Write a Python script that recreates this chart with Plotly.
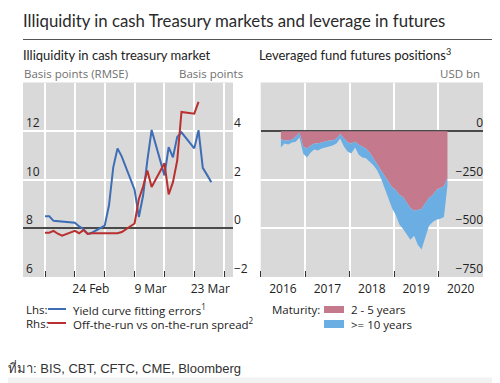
import plotly.graph_objects as go

# ---------------- data: left panel (daily, business days) ----------------
days = ["2020-02-17", "2020-02-18", "2020-02-19", "2020-02-20", "2020-02-21",
        "2020-02-24", "2020-02-25", "2020-02-26", "2020-02-27", "2020-02-28",
        "2020-03-02", "2020-03-03", "2020-03-04", "2020-03-05", "2020-03-06",
        "2020-03-09", "2020-03-10", "2020-03-11", "2020-03-12", "2020-03-13",
        "2020-03-16", "2020-03-17", "2020-03-18", "2020-03-19", "2020-03-20",
        "2020-03-23", "2020-03-24", "2020-03-25", "2020-03-26", "2020-03-27"]
fit_errors = [8.50, 8.50, 8.31, 8.30, 8.28,
              8.23, 8.08, 7.97, 7.77, 7.82,
              8.11, 8.95, 10.51, 11.29, 10.95,
              9.59, 8.47, 9.35, 10.80, 12.05,
              10.18, 11.34, 10.92, 11.76, 11.95,
              11.29, 12.04, 10.49, 10.20, 9.90]
spread_days = days[:27]
spread = [-0.18, -0.18, -0.10, -0.22, -0.30,
          -0.10, -0.20, -0.07, -0.23, -0.20,
          -0.20, -0.20, -0.20, -0.20, -0.15,
          0.20, 1.20, 1.72, 2.38, 1.70,
          2.68, 1.40, 1.90, 2.79, 4.79,
          4.72, 5.20]
week_starts = ["2020-02-17", "2020-02-24", "2020-03-02", "2020-03-09",
               "2020-03-16", "2020-03-23", "2020-03-30"]
left_tick_pos = ["2020-02-27 18:00", "2020-03-12 18:00", "2020-03-26 18:00"]
left_tick_text = ["24 Feb", "9 Mar", "23 Mar"]

# ---------------- data: right panel (monthly) ----------------
months = ["2016-06-15", "2016-07-15", "2016-08-15", "2016-09-15", "2016-10-15", "2016-11-15", "2016-12-15",
          "2017-01-15", "2017-02-15", "2017-03-15", "2017-04-15", "2017-05-15", "2017-06-15",
          "2017-07-15", "2017-08-15", "2017-09-15", "2017-10-15", "2017-11-15", "2017-12-15",
          "2018-01-15", "2018-02-15", "2018-03-15", "2018-04-15", "2018-05-15", "2018-06-15",
          "2018-07-15", "2018-08-15", "2018-09-15", "2018-10-15", "2018-11-15", "2018-12-15",
          "2019-01-15", "2019-02-15", "2019-03-15", "2019-04-15", "2019-05-15", "2019-06-15",
          "2019-07-15", "2019-08-15", "2019-09-15", "2019-10-15", "2019-11-15", "2019-12-15",
          "2020-01-15", "2020-02-15", "2020-03-15"]
mat_2_5 = [-40, -48, -48, -43, -28, -8, -79,
           -89, -74, -64, -64, -59, -54,
           -48, -48, -38, -15, -38, -57,
           -64, -54, -69, -79, -89, -110,
           -140, -166, -201, -232, -263, -288,
           -303, -329, -339, -370, -395, -410,
           -405, -400, -370, -344, -329, -303,
           -293, -283, -242]
mat_10 = [-44, -16, -21, -16, -26, -25, -36,
          -46, -36, -30, -35, -30, -30,
          -31, -26, -26, -23, -41, -48,
          -51, -30, -51, -56, -51, -46,
          -36, -35, -41, -61, -81, -107,
          -128, -153, -163, -163, -163, -128,
          -179, -209, -178, -143, -138, -153,
          -158, -158, -36]
year_starts = ["2016-01-01", "2017-01-01", "2018-01-01", "2019-01-01", "2020-01-01"]
year_mid = ["2016-07-02", "2017-07-02", "2018-07-02", "2019-07-02", "2020-07-02"]
year_text = ["2016", "2017", "2018", "2019", "2020"]

BLUE = "#3D6DB5"
RED = "#B8302F"
PINK = "#C47A8C"
LBLUE = "#6AAEE4"
BG = "#D9D9D9"
TXT = "#222222"
GREY = "#707070"
FONT = "Open Sans"
TFONT = "Lato"

# the page shows the figure with an 8 px offset, so work in page pixels
OX, OY = 8, 8
W, H = 492, 375
def px(x): return (x - OX) / W
def py(y): return 1 - (y - OY) / H

fig = go.Figure()
fig.add_trace(go.Scatter(x=days, y=fit_errors, mode="lines", line=dict(color=BLUE, width=2),
                         xaxis="x", yaxis="y", showlegend=False))
fig.add_trace(go.Scatter(x=spread_days, y=spread, mode="lines", line=dict(color=RED, width=2),
                         xaxis="x", yaxis="y2", showlegend=False))
fig.add_trace(go.Scatter(x=months, y=mat_2_5, mode="lines", stackgroup="pos",
                         line=dict(width=0, color=PINK), fillcolor=PINK,
                         xaxis="x2", yaxis="y3", showlegend=False))
fig.add_trace(go.Scatter(x=months, y=mat_10, mode="lines", stackgroup="pos",
                         line=dict(width=0, color=LBLUE), fillcolor=LBLUE,
                         xaxis="x2", yaxis="y3", showlegend=False))

ydom = [py(277), py(82.5)]
tickfont = dict(family=FONT, size=12, color=TXT)

fig.update_layout(
    width=W, height=H, margin=dict(l=0, r=0, t=0, b=0),
    paper_bgcolor="white", plot_bgcolor=BG, showlegend=False,
    xaxis=dict(domain=[px(23), px(233)], type="date",
               range=["2020-02-11 20:00", "2020-04-01 02:00"],
               tickmode="array", tickvals=left_tick_pos, ticktext=left_tick_text,
               ticks="", showgrid=False, zeroline=False, tickfont=tickfont,
               automargin=False, anchor="y", ticklabelstandoff=3,
               minor=dict(tickmode="array", tickvals=week_starts, ticks="inside",
                          ticklen=6, tickwidth=1, tickcolor="#333333",
                          showgrid=True, gridcolor="white", gridwidth=1.5)),
    yaxis=dict(domain=ydom, range=[6, 14], tickvals=[6, 8, 10, 12],
               ticklabelposition="inside top", showgrid=True, gridcolor="white",
               gridwidth=1.5, zeroline=False, tickfont=tickfont, automargin=False,
               anchor="x", ticks=""),
    yaxis2=dict(domain=ydom, range=[-2, 6], tickvals=[-2, 0, 2, 4], overlaying="y",
                side="right", anchor="x", showgrid=False, zeroline=True,
                zerolinecolor="#4a4a4a", zerolinewidth=1.5,
                ticklabelposition="outside top", tickfont=tickfont,
                automargin=False, ticks=""),
    xaxis2=dict(domain=[px(260.7), px(483)], type="date",
                range=["2016-01-01", "2021-01-01"],
                tickmode="array", tickvals=year_mid, ticktext=year_text,
                ticks="", showgrid=False, zeroline=False, tickfont=tickfont,
                automargin=False, anchor="y3", ticklabelstandoff=3,
                minor=dict(tickmode="array", tickvals=year_starts, ticks="inside",
                           ticklen=6, tickwidth=1, tickcolor="#333333",
                           showgrid=True, gridcolor="white", gridwidth=1.5)),
    yaxis3=dict(domain=ydom, range=[-750, 250], tickvals=[-750, -500, -250, 0],
                side="left", anchor="free", position=px(483),
                ticklabelposition="outside top",
                showgrid=True, gridcolor="white", gridwidth=1.5,
                zeroline=True, zerolinecolor="#4a4a4a", zerolinewidth=1.5,
                tickfont=tickfont, automargin=False, ticks=""),
)

ann = []
def text(x, y, s, size=12, color=TXT, xanchor="left", family=FONT):
    ann.append(dict(x=px(x), y=py(y), xref="paper", yref="paper", text=s,
                    showarrow=False, xanchor=xanchor, yanchor="middle",
                    font=dict(family=family, size=size, color=color)))

text(21, 20, "Illiquidity in cash Treasury markets and leverage in futures", size=16.8,
     color="#2a2a2a", family=TFONT)
text(21, 55, "Illiquidity in cash treasury market", size=13, family=TFONT)
text(257, 55, "Leveraged fund futures positions<sup>3</sup>", size=13, family=TFONT)
text(22, 73, "Basis points (RMSE)", size=11.5, color=GREY)
text(245, 73, "Basis points", size=11.5, color=GREY, xanchor="right")
text(482, 73, "USD bn", size=11.5, color=GREY, xanchor="right")
# legends
text(24, 309, "Lhs:", size=11.5)
text(71, 309, "Yield curve fitting errors<sup>1</sup>", size=11.5)
text(24, 323, "Rhs:", size=11.5)
text(71, 323, "Off-the-run vs on-the-run spread<sup>2</sup>", size=11.5)
text(270, 309, "Maturity:", size=11.5)
text(349, 309, "2 - 5 years", size=11.5)
text(349, 324, ">= 10 years", size=11.5)
text(6, 368, "ที่มา: BIS, CBT, CFTC, CME, Bloomberg", size=13, color="#333333",
     family="Liberation Sans")
fig.update_layout(annotations=ann)

shapes = [
    dict(type="line", xref="paper", yref="paper", x0=px(23), x1=px(493),
         y0=py(39.5), y1=py(39.5), line=dict(color="#555555", width=1)),
    dict(type="line", xref="paper", yref="paper", x0=px(48), x1=px(66),
         y0=py(309), y1=py(309), line=dict(color=BLUE, width=2)),
    dict(type="line", xref="paper", yref="paper", x0=px(48), x1=px(66),
         y0=py(323), y1=py(323), line=dict(color=RED, width=2)),
    dict(type="rect", xref="paper", yref="paper", x0=px(324), x1=px(344),
         y0=py(313), y1=py(306), fillcolor=PINK, line=dict(width=0)),
    dict(type="rect", xref="paper", yref="paper", x0=px(324), x1=px(344),
         y0=py(328), y1=py(320), fillcolor=LBLUE, line=dict(width=0)),
    dict(type="rect", xref="paper", yref="paper", x0=0, x1=1,
         y0=0, y1=py(377.5), fillcolor="#F2F2F2", line=dict(width=0), layer="below"),
]
fig.update_layout(shapes=shapes)

fig.write_html("out.html")
